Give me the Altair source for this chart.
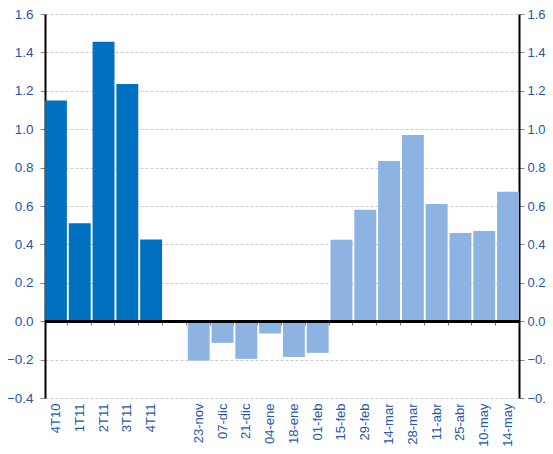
import altair as alt
import pandas as pd

# categories (gap slot between quarterly and biweekly data)
cats = ["4T10", "1T11", "2T11", "3T11", "4T11", "gap",
        "23-nov", "07-dic", "21-dic", "04-ene", "18-ene", "01-feb",
        "15-feb", "29-feb", "14-mar", "28-mar", "11-abr", "25-abr",
        "10-may", "14-may"]
quarter_labels = ["4T10", "1T11", "2T11", "3T11", "4T11"]
quarter_vals = [1.15, 0.51, 1.455, 1.235, 0.425]
week_labels = ["23-nov", "07-dic", "21-dic", "04-ene", "18-ene", "01-feb",
               "15-feb", "29-feb", "14-mar", "28-mar", "11-abr", "25-abr",
               "10-may", "14-may"]
week_vals = [-0.205, -0.113, -0.196, -0.064, -0.186, -0.165,
             0.424, 0.58, 0.835, 0.97, 0.611, 0.46, 0.47, 0.674]
yticks = [-0.4, -0.2, 0, 0.2, 0.4, 0.6, 0.8, 1.0, 1.2, 1.4, 1.6]

df = pd.DataFrame({
    "cat": quarter_labels + week_labels,
    "val": quarter_vals + week_vals,
    "grp": ["q"] * len(quarter_labels) + ["w"] * len(week_labels),
})

lblcolor = "#2458a8"
yscale = alt.Scale(domain=[-0.4, 1.6])
xscale = alt.Scale(domain=cats, paddingInner=0.08, paddingOuter=0)

bars = alt.Chart(df).mark_bar().encode(
    x=alt.X("cat:N", scale=xscale, sort=cats, title=None,
            axis=alt.Axis(labelAngle=-90, ticks=False, domain=False, grid=False,
                          labelColor=lblcolor, labelFontSize=13, labelPadding=5,
                          labelFont="Liberation Sans",
                          labelExpr="datum.value == 'gap' ? '' : datum.value")),
    y=alt.Y("val:Q", scale=yscale, title=None,
            axis=alt.Axis(values=yticks, format=".1f", grid=True, gridColor="#cccccc",
                          gridDash=[3, 2], domainColor="black", domainWidth=2,
                          tickColor="#888888", tickSize=5, labelColor=lblcolor,
                          labelFontSize=13.5, labelFont="Liberation Sans", labelPadding=7)),
    color=alt.Color("grp:N", scale=alt.Scale(domain=["q", "w"], range=["#0070c0", "#8db3e2"]),
                    legend=None),
)

# second layer: ticks on zero line and right axis
marks = alt.Chart(df).mark_bar(opacity=0).encode(
    x=alt.X("cat:N", scale=xscale, sort=cats, title=None,
            axis=alt.Axis(orient="bottom", offset=-77, labels=False, domain=False, grid=False,
                          tickBand="extent", tickColor="#777777", tickSize=4)),
    y=alt.Y("val:Q", scale=yscale, title=None,
            axis=alt.Axis(orient="right", values=yticks, format=".1f", grid=False,
                          domainColor="black", domainWidth=2, tickColor="#888888",
                          tickSize=5, labelColor=lblcolor, labelFontSize=13,
                          labelFont="Liberation Sans", labelPadding=3)),
)

zero = alt.Chart(df).mark_rule(color="black", strokeWidth=2).encode(
    y=alt.Y(datum=0, axis=None)
)

chart = alt.layer(bars, marks, zero).resolve_scale(
    x="shared", y="shared"
).resolve_axis(
    x="independent", y="independent"
).properties(
    width=474, height=384,
    autosize=alt.AutoSizeParams(type="none"),
    padding={"left": 37, "top": 6, "right": 26, "bottom": 48},
).configure_view(stroke=None)

chart.save("out.html", embed_options={"renderer": "svg", "actions": False})
